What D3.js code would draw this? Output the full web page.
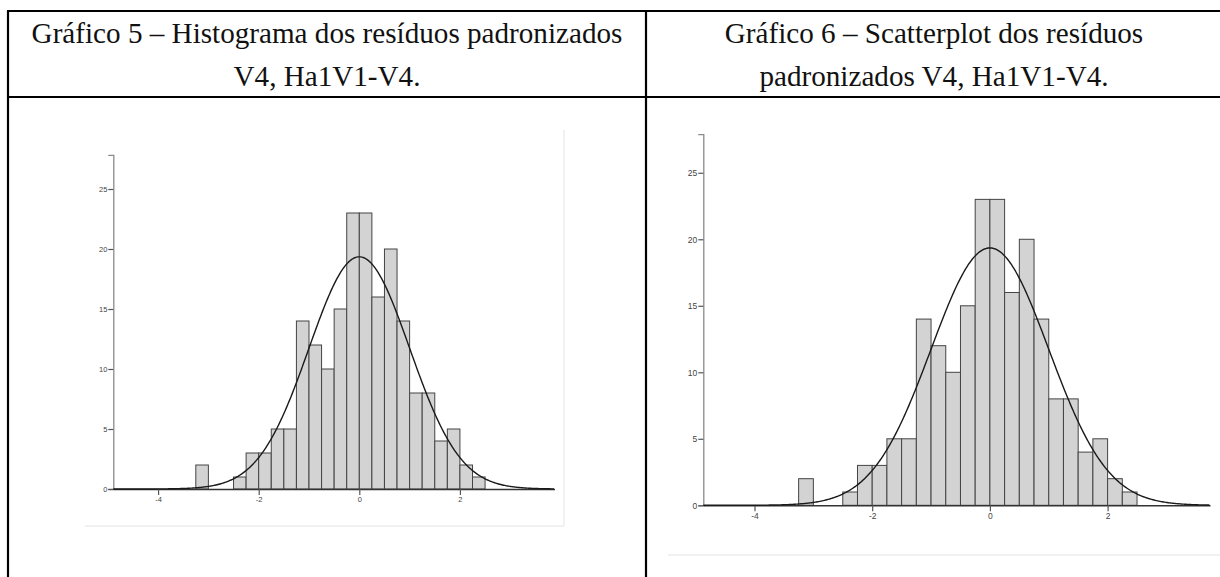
<!DOCTYPE html>
<html>
<head>
<meta charset="utf-8">
<script src="https://cdn.jsdelivr.net/npm/d3@7/dist/d3.min.js"></script>
<style>
    body { margin: 0; background: #fff; }
    .canvas svg { display: block; }
</style>
</head>
<body>
<div class="canvas"></div>
<script>
// histogram of standardized residuals (same values in both panels).
const binStart = [-3.25, -2.5, -2.25, -2.0, -1.75, -1.5, -1.25, -1.0, -0.75, -0.5, -0.25, 0, 0.25, 0.5, 0.75, 1.0, 1.25, 1.5, 1.75, 2.0, 2.25];
const binEnd   = [-3.0, -2.25, -2.0, -1.75, -1.5, -1.25, -1.0, -0.75, -0.5, -0.25, 0, 0.25, 0.5, 0.75, 1.0, 1.25, 1.5, 1.75, 2.0, 2.25, 2.5];
const counts   = [2, 1, 3, 3, 5, 5, 14, 12, 10, 15, 23, 23, 16, 20, 14, 8, 8, 4, 5, 2, 1];

// fitted normal curve parameters.
const curveMean = 0;
const curveSd = 1.0;

const xTicks = [-4, -2, 0, 2];
const yTicks = [0, 5, 10, 15, 20, 25];

const titles5 = ['Gráfico 5 – Histograma dos resíduos padronizados', 'V4, Ha1V1-V4.'];
const titles6 = ['Gráfico 6 – Scatterplot dos resíduos', 'padronizados V4, Ha1V1-V4.'];

// dimensions.
const svgDimensions = { width: 1220, height: 577 };
const table = { left: 8, mid: 646, right: 1222, top: 11, headBottom: 97 };

const panels = [
    { titles: titles5, cx: 327, left: 113.3, right: 554.5, top: 154.8, bottom: 489,
      xDomain: [-4.89, 3.88], yDomain: [0, 27.85], fontSize: 7.5,
      frame: [[85, 526], [564, 526], [564, 130]] },
    { titles: titles6, cx: 934, left: 703.3, right: 1210, top: 134.2, bottom: 505.3,
      xDomain: [-4.87, 3.74], yDomain: [0, 27.9], fontSize: 8.5,
      frame: [[668, 555], [1220, 555]] }
];

const svg = d3.select('.canvas')
    .append('svg')
        .attr('width', svgDimensions.width)
        .attr('height', svgDimensions.height);

svg.append('rect')
    .attr('width', svgDimensions.width)
    .attr('height', svgDimensions.height)
    .attr('fill', '#fff');

// table grid.
const grid = svg.append('g')
    .attr('stroke', '#000')
    .attr('stroke-width', 2.2);

[table.top, table.headBottom].forEach(y => {
    grid.append('line')
        .attr('x1', table.left - 1).attr('x2', table.right)
        .attr('y1', y).attr('y2', y);
});
[table.left, table.mid, table.right].forEach(x => {
    grid.append('line')
        .attr('x1', x).attr('x2', x)
        .attr('y1', table.top).attr('y2', svgDimensions.height);
});

// header texts, sized so the first line fills the left cell like the original.
const headerFont = "'Liberation Serif', 'DejaVu Serif', serif";
const headers = svg.append('g')
    .attr('font-family', headerFont)
    .attr('fill', '#111')
    .attr('text-anchor', 'middle');

panels.forEach(p => {
    p.titles.forEach((t, i) => {
        headers.append('text')
            .attr('x', p.cx)
            .attr('y', i === 0 ? 43 : 86)
            .attr('font-size', 27)
            .text(t);
    });
});

const firstLen = headers.select('text').node().getComputedTextLength();
headers.selectAll('text').attr('font-size', 27 * 591 / firstLen);

const binWidth = binEnd[0] - binStart[0];
const total = d3.sum(counts);
const normal = x => total * binWidth / (curveSd * Math.sqrt(2 * Math.PI))
    * Math.exp(-0.5 * Math.pow((x - curveMean) / curveSd, 2));

const bins = binStart.map((b, i) => ({ x0: b, x1: binEnd[i], count: counts[i] }));

panels.forEach(p => {

    const x = d3.scaleLinear().domain(p.xDomain).range([p.left, p.right]);
    const y = d3.scaleLinear().domain(p.yDomain).range([p.bottom, p.top]);

    const graph = svg.append('g');

    // faint frame of the pasted output image.
    graph.append('path')
        .attr('d', d3.line()(p.frame))
        .attr('fill', 'none')
        .attr('stroke', '#e4e4e4')
        .attr('stroke-width', 1);

    // bars.
    graph.selectAll('rect.bar')
        .data(bins)
        .enter()
        .append('rect')
            .attr('class', 'bar')
            .attr('x', d => x(d.x0))
            .attr('width', d => x(d.x1) - x(d.x0))
            .attr('y', d => y(d.count))
            .attr('height', d => y(0) - y(d.count))
            .attr('fill', '#d3d3d3')
            .attr('stroke', '#444')
            .attr('stroke-width', 1);

    // y axis.
    const yAxis = d3.axisLeft(y)
        .tickValues(yTicks)
        .tickSize(5)
        .tickPadding(1)
        .tickFormat(d3.format('d'));

    const yG = graph.append('g')
        .attr('transform', `translate(${p.left},0)`)
        .call(yAxis);
    yG.select('.domain').attr('stroke', '#8a8a8a').attr('stroke-width', 1.3);
    yG.selectAll('.tick line').attr('stroke', '#555').attr('stroke-width', 1.2);

    // x axis.
    const xAxis = d3.axisBottom(x)
        .tickValues(xTicks)
        .tickSize(6)
        .tickPadding(2)
        .tickSizeOuter(0)
        .tickFormat(d => d < 0 ? '-' + Math.abs(d) : d);

    const xG = graph.append('g')
        .attr('transform', `translate(0,${p.bottom})`)
        .call(xAxis);
    xG.select('.domain').attr('stroke', '#333').attr('stroke-width', 1.4);
    xG.selectAll('.tick line').attr('stroke', '#555').attr('stroke-width', 1.2);

    [yG, xG].forEach(g => {
        g.selectAll('text')
            .attr('font-family', "'Liberation Sans', Arial, sans-serif")
            .attr('font-size', p.fontSize)
            .attr('fill', '#444');
    });

    // normal curve.
    const curvePoints = d3.range(p.xDomain[0], p.xDomain[1] + 0.001, 0.02)
        .map(v => [v, normal(v)]);

    graph.append('path')
        .attr('d', d3.line().x(d => x(d[0])).y(d => y(d[1]))(curvePoints))
        .attr('fill', 'none')
        .attr('stroke', '#1a1a1a')
        .attr('stroke-width', 1.4);
});
</script>
</body>
</html>
